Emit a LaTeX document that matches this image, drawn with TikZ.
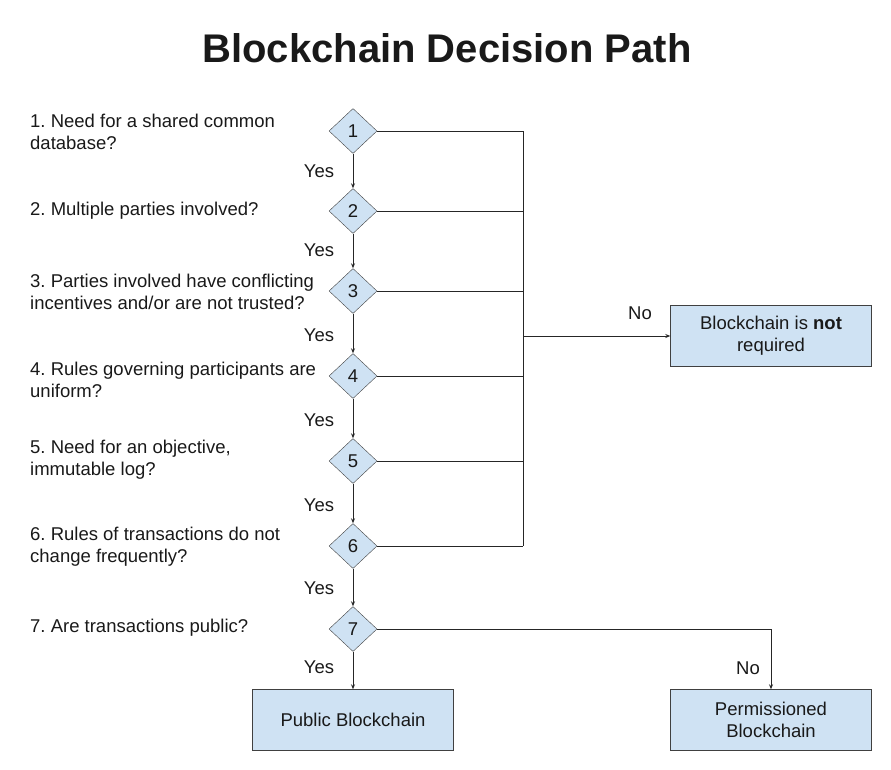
\documentclass[tikz,border=0pt]{standalone}
\usepackage{fontspec}
\setmainfont{Liberation Sans}
\usetikzlibrary{shapes.geometric,arrows.meta}
\definecolor{boxblue}{HTML}{CFE2F3}
\frenchspacing

\begin{document}
\begin{tikzpicture}[x=1pt, y=-1pt,
		every node/.style={font=\fontsize{18.5}{22}\selectfont, text=black!90},
		ask/.style={draw=black!75, fill=boxblue, diamond, inner sep=0pt, minimum width=48pt, minimum height=45pt},
		result/.style={draw=black!75, fill=boxblue, minimum width=201pt, minimum height=61pt, align=center},
		question/.style={anchor=west, align=left, inner xsep=0pt},
		link/.style={draw=black!85, line width=0.9pt},
		arr/.style={link, -{Stealth[length=5pt, width=4pt]}}]

				\useasboundingbox (0,0) rectangle (891,769);

				\node [font=\fontsize{40}{48}\selectfont\bfseries] (title) at (447, 48) {Blockchain Decision Path};

				% questions on the left
				\node [question] (q1) at (30, 132) {1. Need for a shared common\\database?};
				\node [question] (q2) at (30, 211) {2. Multiple parties involved?};
				\node [question] (q3) at (30, 292) {3. Parties involved have conflicting\\incentives and/or are not trusted?};
				\node [question] (q4) at (30, 380) {4. Rules governing participants are\\uniform?};
				\node [question] (q5) at (30, 460) {5. Need for an objective,\\immutable log?};
				\node [question] (q6) at (30, 547) {6. Rules of transactions do not\\change frequently?};
				\node [question] (q7) at (30, 628) {7. Are transactions public?};

				% decisions
				\node [ask] (d1) at (353, 131) {1};
				\node [ask] (d2) at (353, 211) {2};
				\node [ask] (d3) at (353, 291) {3};
				\node [ask] (d4) at (353, 376) {4};
				\node [ask] (d5) at (353, 461) {5};
				\node [ask] (d6) at (353, 546) {6};
				\node [ask] (d7) at (353, 629) {7};

				% outcomes
				\node [result] (notreq) at (771, 336) {Blockchain is \textbf{not}\\required};
				\node [result] (public) at (353, 720) {Public Blockchain};
				\node [result] (perm) at (771, 720) {Permissioned\\Blockchain};

				%------
				\node (y1) at (319, 171) {Yes};
				\node (y2) at (319, 250) {Yes};
				\node (y3) at (319, 335) {Yes};
				\node (y4) at (319, 420) {Yes};
				\node (y5) at (319, 505) {Yes};
				\node (y6) at (319, 588) {Yes};
				\node (y7) at (319, 667) {Yes};
				\node (n1) at (640, 313) {No};
				\node (n2) at (748, 668) {No};

				\draw [arr] (d1) -- (d2);
				\draw [arr] (d2) -- (d3);
				\draw [arr] (d3) -- (d4);
				\draw [arr] (d4) -- (d5);
				\draw [arr] (d5) -- (d6);
				\draw [arr] (d6) -- (d7);
				\draw [arr] (d7) -- (public);

				\coordinate (jtop) at (523, 131);
				\coordinate (jbot) at (523, 546);
				\coordinate (jmid) at (523, 336);
				\draw [link] (d1.east) -- (jtop) -- (jbot);
				\draw [link] (d2.east) -- (d2.east -| jtop);
				\draw [link] (d3.east) -- (d3.east -| jtop);
				\draw [link] (d4.east) -- (d4.east -| jtop);
				\draw [link] (d5.east) -- (d5.east -| jtop);
				\draw [link] (d6.east) -- (jbot);
				\draw [arr] (jmid) -- (notreq.west);
				\draw [arr] (d7.east) -| (perm.north);
		\end{tikzpicture}
\end{document}
